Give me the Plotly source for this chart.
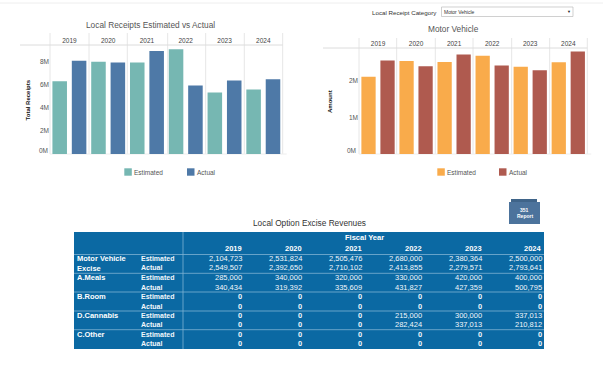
import plotly.graph_objects as go

W, H = 603, 370
FONT = "Liberation Sans"

years = ["2019", "2020", "2021", "2022", "2023", "2024"]
total_estimated = [6.32e6, 8.02e6, 7.95e6, 9.1e6, 5.35e6, 5.6e6]
total_actual = [8.1e6, 7.95e6, 8.95e6, 5.95e6, 6.4e6, 6.5e6]
mv_estimated = [2104723, 2531824, 2505476, 2680000, 2380364, 2500000]
mv_actual = [2549507, 2392650, 2710102, 2413855, 2279571, 2793641]
total_ticks = [0, 2e6, 4e6, 6e6, 8e6]
total_ticktext = ["", "2M", "4M", "6M", "8M"]
mv_ticks = [0, 1e6, 2e6]
mv_ticktext = ["", "1M", "2M"]

table_rows = ["Motor Vehicle<br>Excise", "A.Meals", "B.Room", "D.Cannabis", "C.Other"]
table_estimated = [
    ["2,104,723", "2,531,824", "2,505,476", "2,680,000", "2,380,364", "2,500,000"],
    ["285,000", "340,000", "320,000", "330,000", "420,000", "400,000"],
    ["0", "0", "0", "0", "0", "0"],
    ["0", "0", "0", "215,000", "300,000", "337,013"],
    ["0", "0", "0", "0", "0", "0"],
]
table_actual = [
    ["2,549,507", "2,392,650", "2,710,102", "2,413,855", "2,279,571", "2,793,641"],
    ["340,434", "319,392", "335,609", "431,827", "427,359", "500,795"],
    ["0", "0", "0", "0", "0", "0"],
    ["0", "0", "0", "282,424", "337,013", "210,812"],
    ["0", "0", "0", "0", "0", "0"],
]

TEAL, BLUE, ORANGE, BROWN = "#76b7b2", "#4e79a7", "#f9ab4b", "#af5a4f"
GRID = "#e6e6e6"
TBL = "#0b69a3"
TBL_LINE = "#7fb3d3"


def X(p):
    return p / W


def Y(p):
    return 1 - p / H


fig = go.Figure()
bar_common = dict(hoverinfo="skip", marker_line_width=0, showlegend=False)
fig.add_bar(x=years, y=total_estimated, name="Estimated", marker_color=TEAL, xaxis="x", yaxis="y", **bar_common)
fig.add_bar(x=years, y=total_actual, name="Actual", marker_color=BLUE, xaxis="x", yaxis="y", **bar_common)
fig.add_bar(x=years, y=mv_estimated, name="Estimated", marker_color=ORANGE, xaxis="x2", yaxis="y2", **bar_common)
fig.add_bar(x=years, y=mv_actual, name="Actual", marker_color=BROWN, xaxis="x2", yaxis="y2", **bar_common)

shapes, ann = [], []


def text(x, y, s, size=7, color="#555555", xanchor="left", bold=False, textangle=0):
    ann.append(dict(
        x=X(x), y=Y(y), xref="paper", yref="paper", text=f"<b>{s}</b>" if bold else s,
        showarrow=False, xanchor=xanchor, yanchor="middle", textangle=textangle, align=xanchor,
        font=dict(family=FONT, size=size, color=color), borderpad=0, borderwidth=0,
    ))


def rect(x0, y0, x1, y1, fill, line=None, layer="above"):
    shapes.append(dict(
        type="rect", xref="paper", yref="paper", x0=X(x0), x1=X(x1), y0=Y(y0), y1=Y(y1),
        fillcolor=fill, line=dict(color=line or fill, width=0.7 if line else 0), layer=layer,
    ))


def hline(x0, x1, y, color=GRID, width=1, layer="below"):
    shapes.append(dict(type="line", xref="paper", yref="paper", x0=X(x0), x1=X(x1), y0=Y(y), y1=Y(y),
                       line=dict(color=color, width=width), layer=layer))


def vline(x, y0, y1, color=GRID, width=1, layer="below"):
    shapes.append(dict(type="line", xref="paper", yref="paper", x0=X(x), x1=X(x), y0=Y(y0), y1=Y(y1),
                       line=dict(color=color, width=width), layer=layer))


def xaxis(x0, x1, anchor):
    return dict(domain=[X(x0), X(x1)], side="top", anchor=anchor, type="category",
                showgrid=False, zeroline=False, showline=False, ticks="", ticklen=0,
                tickfont=dict(family=FONT, size=6.5, color="#444444"), automargin=False)


def yaxis(ytop, ymax, vals, labels, anchor):
    return dict(domain=[Y(154), Y(ytop)], range=[0, ymax], anchor=anchor, tickvals=vals, ticktext=labels,
                showgrid=False, zeroline=False, showline=False, ticks="",
                tickfont=dict(family=FONT, size=6.5, color="#555555"), automargin=False)


# chart furniture
hline(0, 603, 3, color="#eeeeee")
for xs, top, head, left in [
    ([50, 89, 127.3, 167.7, 205.7, 244.3, 282.7], 33, 45, 20),
    ([359, 396.7, 435.3, 473, 511.7, 549.7, 587.3], 38, 48, 323),
]:
    for v in xs:
        vline(v, top, 154)
    hline(left, xs[-1], head, color="#dcdcdc")
    hline(xs[0], xs[-1] + 4, 154, color="#eeeeee")

text(150, 25, "Local Receipts Estimated vs Actual", size=8.3, xanchor="center")
text(453.7, 29, "Motor Vehicle", size=8.3, xanchor="center")
text(27.5, 100, "Total Receipts", size=6, color="#111111", xanchor="center", bold=True, textangle=-90)
text(330, 101, "Amount", size=6, color="#111111", xanchor="center", bold=True, textangle=-90)
text(47.5, 150, "0M", size=6.5, xanchor="right")
text(355.5, 150, "0M", size=6.5, xanchor="right")

# legends
for x0, col, lab in [(124.3, TEAL, "Estimated"), (187, BLUE, "Actual"), (437.3, ORANGE, "Estimated"), (499, BROWN, "Actual")]:
    rect(x0, 168.3, x0 + 7.5, 175.7, col)
    text(x0 + 10, 172, lab, size=6.5)

# selector
text(437, 12.3, "Local Receipt Category", size=6.2, color="#333333", xanchor="right")
rect(441.5, 7, 573, 16.5, "#ffffff", line="#bbbbbb")
text(444, 11.7, "Motor Vehicle", size=5, color="#333333")
text(568.5, 11.7, "▼", size=4, color="#222222", xanchor="center")

# report icon
rect(511, 199, 537, 204, "#3f6489")
rect(509, 202, 540, 224, "#4c739c")
text(524.5, 210, "351", size=5, color="#ffffff", xanchor="center", bold=True)
text(524.5, 216, "Report", size=5, color="#ffffff", xanchor="center", bold=True)

# table
text(309, 223, "Local Option Excise Revenues", size=8.3, color="#333333", xanchor="center")
rect(74, 232, 544, 349, TBL)
col_right = [241.7, 301.7, 361.7, 421.7, 482.3, 542]
row_sep = [254.5, 273.3, 292, 311, 329.7]
row_mid_est = [258.7, 277.7, 296.7, 315, 334.3]
row_mid_act = [267.3, 287, 306, 324.7, 343.7]
row_label = [263, 277.5, 296.5, 315, 334]
for y in row_sep:
    hline(74, 544, y, color=TBL_LINE, width=0.8, layer="above")
vline(183, 232, 349, color=TBL_LINE, width=0.8, layer="above")
text(364, 237.7, "Fiscal Year", size=7.5, color="#ffffff", xanchor="center", bold=True)
TXT = "#f2f7fb"
for x, yr in zip(col_right, years):
    text(x, 248, yr, size=7.5, color="#ffffff", xanchor="right", bold=True)
for i, name in enumerate(table_rows):
    text(77.3, row_label[i], name, size=7.5, color="#ffffff", bold=True)
    text(140.7, row_mid_est[i], "Estimated", size=7, color=TXT, bold=True)
    text(140.7, row_mid_act[i], "Actual", size=7, color=TXT, bold=True)
    for x, e, a in zip(col_right, table_estimated[i], table_actual[i]):
        text(x, row_mid_est[i], e, size=7.5, color=TXT, xanchor="right", bold=(e == "0"))
        text(x, row_mid_act[i], a, size=7.5, color=TXT, xanchor="right", bold=(a == "0"))

fig.update_layout(
    width=W, height=H, autosize=False,
    margin=dict(l=0, r=0, t=0, b=0),
    paper_bgcolor="#ffffff", plot_bgcolor="rgba(0,0,0,0)",
    barmode="group", bargap=0, bargroupgap=0.25,
    showlegend=False, shapes=shapes, annotations=ann,
    font=dict(family=FONT),
    xaxis=xaxis(50, 282.7, "y"),
    yaxis=yaxis(45, 109 / 11.5 * 1e6, total_ticks, total_ticktext, "x"),
    xaxis2=xaxis(359, 587.3, "y2"),
    yaxis2=yaxis(48, 106 / 36.7 * 1e6, mv_ticks, mv_ticktext, "x2"),
)
fig.write_html("out.html", config=dict(displayModeBar=False),
               post_script="document.body.style.margin='0';document.body.style.overflow='hidden';")
